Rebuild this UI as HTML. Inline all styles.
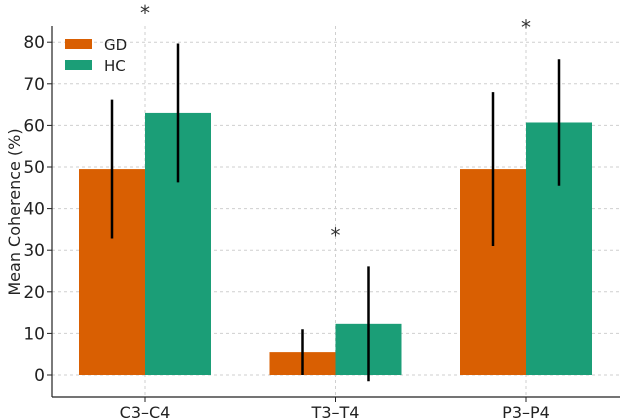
<!DOCTYPE html>
<html><head><meta charset="utf-8"><style>
body{margin:0;background:#fff;}
svg{display:block;font-family:"DejaVu Sans","Liberation Sans",sans-serif;}
</style></head><body>
<svg id="chart" width="624" height="420" viewBox="0 0 624 420" xmlns="http://www.w3.org/2000/svg"></svg>
<script>
const categories = ["C3\u2013C4","T3\u2013T4","P3\u2013P4"];
const gdValues = [49.5, 5.5, 49.5];
const hcValues = [63, 12.3, 60.7];
const gdErrors = [16.7, 5.5, 18.5];
const hcErrors = [16.7, 13.8, 15.2];
const starValues = [88, 34.5, 84.5];
const yTicks = [0,10,20,30,40,50,60,70,80];

const svg = document.getElementById('chart');
const NS = 'http://www.w3.org/2000/svg';
const yScale = v => 375 - v * 4.16;
const xScale = i => 145 + i * 190.5;
const barW = 66;
function mk(tag, attrs, parent){
  const e = document.createElementNS(NS, tag);
  for (const k in attrs) e.setAttribute(k, attrs[k]);
  (parent||svg).appendChild(e);
  return e;
}
yTicks.forEach(t=>{
  const g = mk('line',{x1:52,x2:620,y1:yScale(t),y2:yScale(t),stroke:'#cfcfcf','stroke-width':1,'stroke-dasharray':'3,3'});
  
  
  const lb = mk('text',{x:45,y:yScale(t)+6,'text-anchor':'end','font-size':17,fill:'#222'});
  lb.textContent = t;
  
  
});
categories.forEach((c,i)=>{
  const g = mk('line',{x1:xScale(i),x2:xScale(i),y1:26,y2:397,stroke:'#cfcfcf','stroke-width':1,'stroke-dasharray':'3,3'});
  
  
});
categories.forEach((c,i)=>{
  const cx = xScale(i);
  const b1 = mk('rect',{x:cx-barW,y:yScale(gdValues[i]),width:barW,height:yScale(0)-yScale(gdValues[i]),fill:'#d95f02'});
  
  
  const b2 = mk('rect',{x:cx,y:yScale(hcValues[i]),width:barW,height:yScale(0)-yScale(hcValues[i]),fill:'#1b9e77'});
  
  
  const e1 = mk('line',{x1:cx-barW/2,x2:cx-barW/2,y1:yScale(gdValues[i]-gdErrors[i]),y2:yScale(gdValues[i]+gdErrors[i]),stroke:'#000','stroke-width':2.5});
  
  
  const e2 = mk('line',{x1:cx+barW/2,x2:cx+barW/2,y1:yScale(hcValues[i]-hcErrors[i]),y2:yScale(hcValues[i]+hcErrors[i]),stroke:'#000','stroke-width':2.5});
  
  
  const s = mk('text',{x:cx,y:yScale(starValues[i])+11,'text-anchor':'middle','font-size':20,fill:'#333'});
  s.textContent='*';
  
  
  const tk = mk('line',{x1:cx,x2:cx,y1:397,y2:402,stroke:'#222','stroke-width':1});
  
  
  const lb = mk('text',{x:cx,y:418,'text-anchor':'middle','font-size':16,fill:'#222'});
  lb.textContent=c;
  
  
});
const sl = mk('line',{x1:52,x2:52,y1:26,y2:397,stroke:'#222','stroke-width':1.2});


const sb = mk('line',{x1:52,x2:620,y1:397,y2:397,stroke:'#222','stroke-width':1.2});


yTicks.forEach(t=>{
  const tk = mk('line',{x1:47,x2:52,y1:yScale(t),y2:yScale(t),stroke:'#222','stroke-width':1});
  
  
});
const yt = mk('text',{x:0,y:0,transform:'translate(20,212) rotate(-90)','text-anchor':'middle','font-size':16,fill:'#222'});
yt.textContent='Mean Coherence (%)';


const legend = mk('g',{});


[['GD','#d95f02',44],['HC','#1b9e77',65]].forEach(([n,c,y])=>{
  const r = mk('rect',{x:65,y:y-5,width:27,height:10,fill:c},legend);
  
  
  const t = mk('text',{x:104,y:y+6,'font-size':15,fill:'#222'},legend);
  t.textContent=n;
  
  
});
</script>
</body></html>
